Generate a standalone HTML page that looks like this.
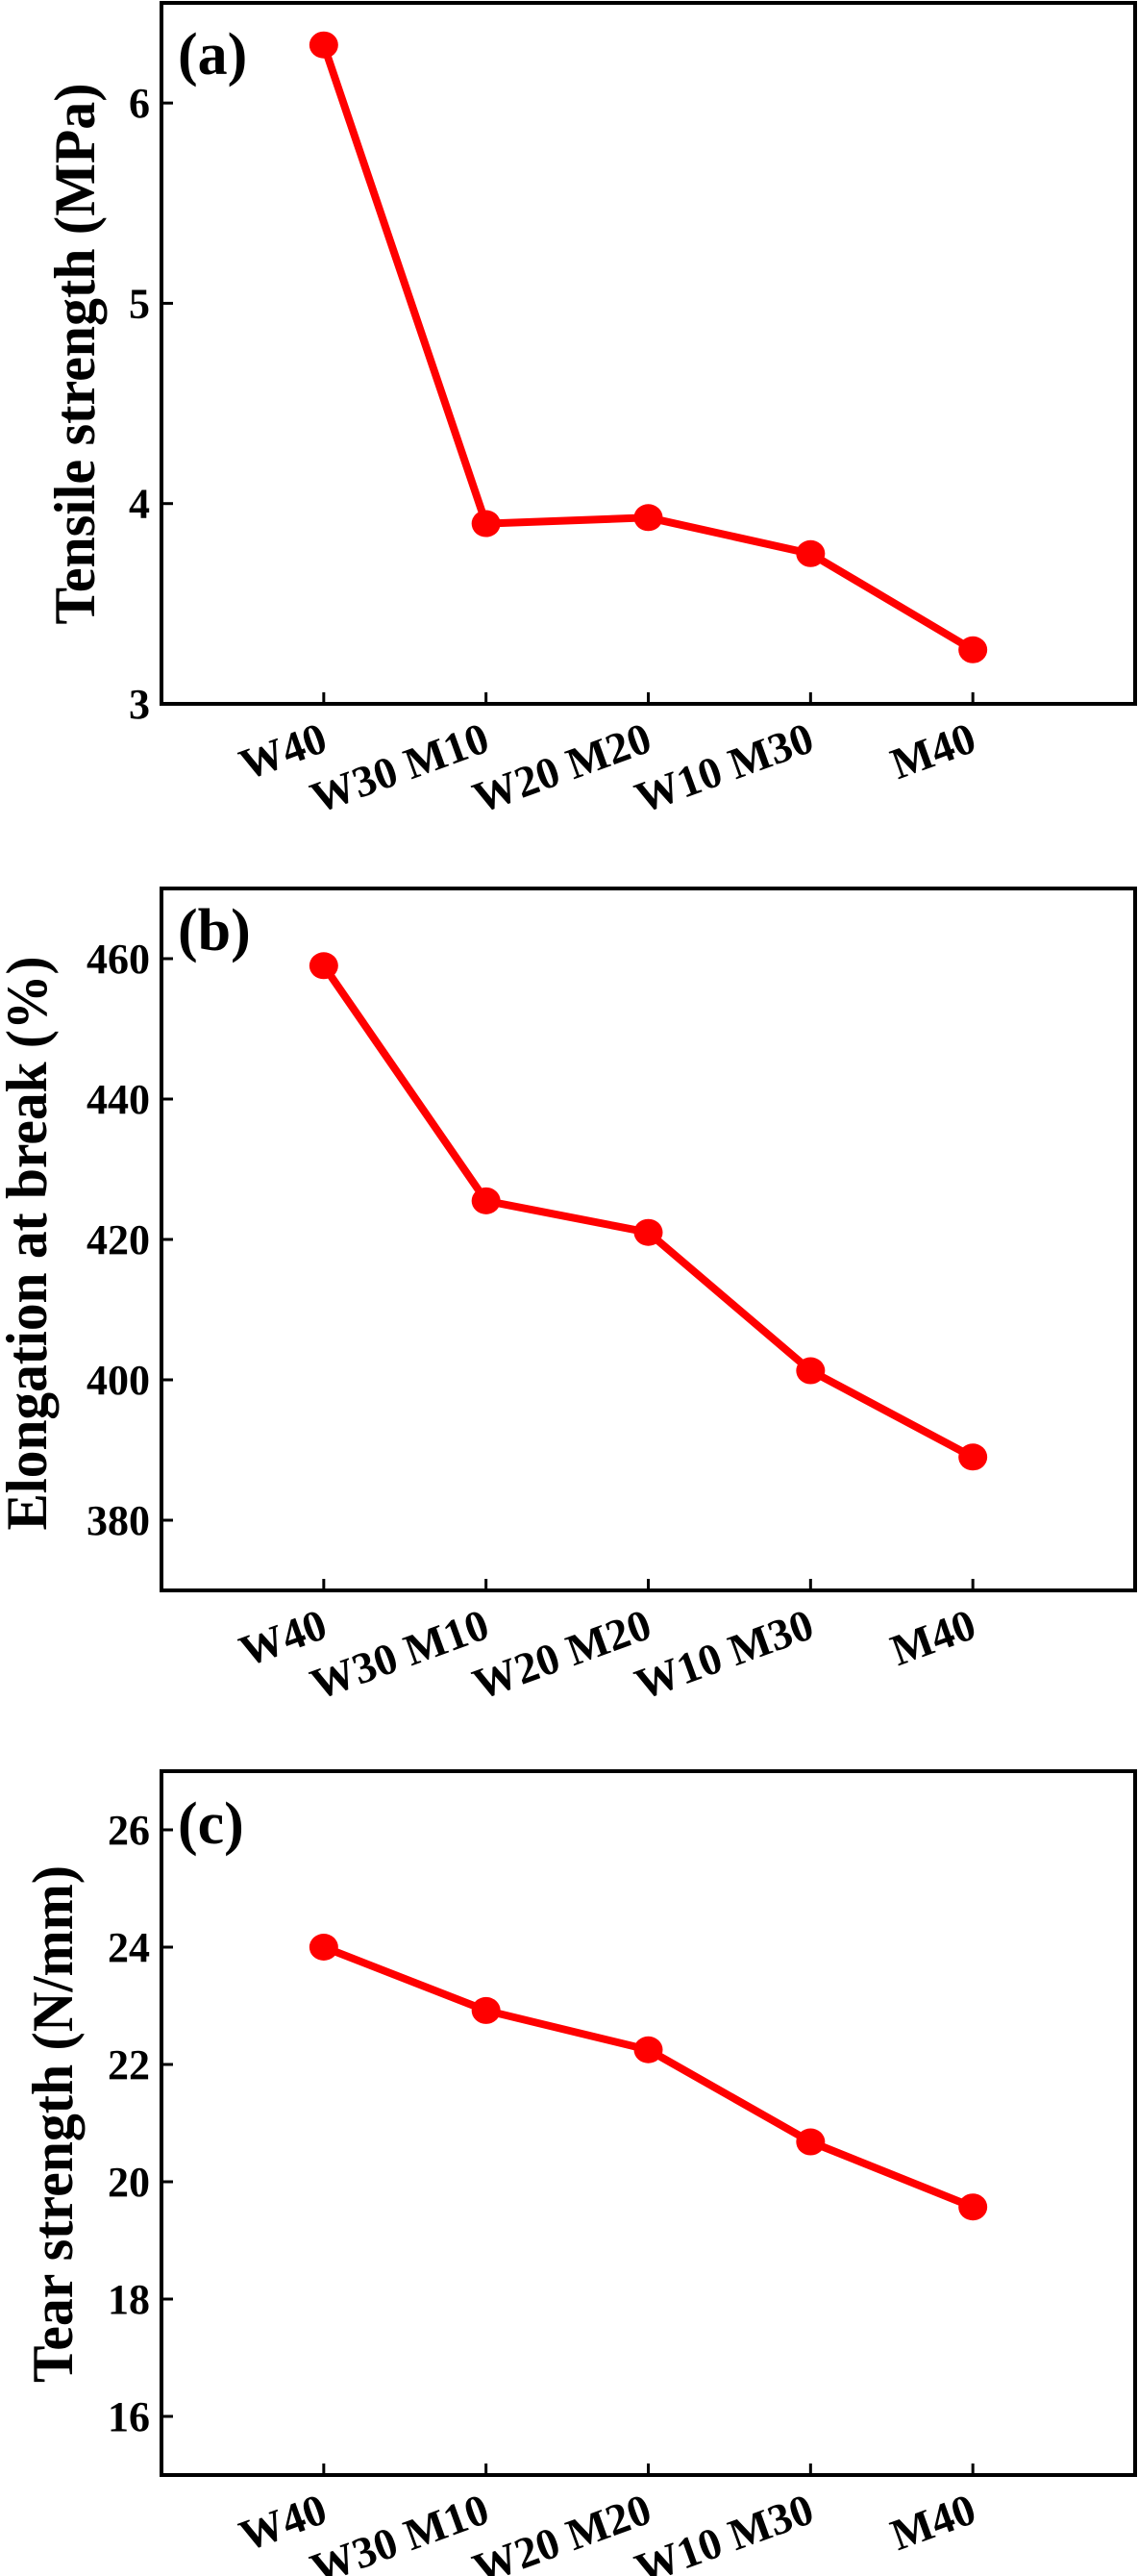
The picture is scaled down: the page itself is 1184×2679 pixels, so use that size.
<!DOCTYPE html>
<html><head><meta charset="utf-8"><style>
body{margin:0;background:#fff;}
svg{display:block;font-family:"Liberation Serif",serif;font-weight:bold;}
</style></head><body>
<svg id="fig" width="1184" height="2679" viewBox="0 0 1184 2679"></svg>
<script>
const categories = ["W40","W30 M10","W20 M20","W10 M30","M40"];
const tensileValues = [6.29, 3.90, 3.93, 3.75, 3.27];
const tensileTicks = [3,4,5,6];
const elongationValues = [459, 425.5, 421, 401.3, 389];
const elongationTicks = [380,400,420,440,460];
const tearValues = [24.0, 22.92, 22.25, 20.68, 19.57];
const tearTicks = [16,18,20,22,24,26];

const NS="http://www.w3.org/2000/svg";
const svg=document.getElementById('fig');
function mk(tag,attrs,parent){const e=document.createElementNS(NS,tag);for(const k in attrs)e.setAttribute(k,attrs[k]);(parent||svg).appendChild(e);return e;}

function panel(cfg){
  const g=mk('g',{});
  
  
  const L=168,R=1181,T=cfg.top,B=cfg.bottom;
  const xs=i=>L+(i+1)*(R-L)/6;
  const ys=v=>B-(v-cfg.min)/(cfg.max-cfg.min)*(B-T);
  const frame=mk('rect',{x:L,y:T,width:R-L,height:B-T,fill:'none',stroke:'#000','stroke-width':4},g);
  
  
  cfg.ticks.forEach(t=>{
    const y=ys(t);
    mk('line',{x1:L,x2:L+12,y1:y,y2:y,stroke:'#000','stroke-width':3},g);
    const tx=mk('text',{x:L-12,y:y+15,'text-anchor':'end','font-size':44},g);
    tx.textContent=t;
    
    
  });
  categories.forEach((c,i)=>{
    const x=xs(i);
    mk('line',{x1:x,x2:x,y1:B,y2:B-12,stroke:'#000','stroke-width':3},g);
    const tx=mk('text',{x:0,y:0,'text-anchor':'end','font-size':46,transform:`translate(${x+6},${B+48}) rotate(-20)`},g);
    tx.textContent=c;
    
    
  });
  const pts=cfg.values.map((v,i)=>xs(i)+','+ys(v)).join(' ');
  const line=mk('polyline',{points:pts,fill:'none',stroke:'#ff0000','stroke-width':8,'stroke-linejoin':'round'},g);
  
  
  cfg.values.forEach((v,i)=>{
    const c=mk('ellipse',{cx:xs(i),cy:ys(v),rx:15,ry:14,fill:'#ff0000'},g);
    
    
  });
  const lab=mk('text',{x:185,y:cfg.top+(cfg.labelDy||56),'font-size':62},g);
  lab.textContent=cfg.label;
  
  
  const yt=mk('text',{x:0,y:0,'text-anchor':'middle','font-size':60,textLength:cfg.titleLen,lengthAdjust:'spacingAndGlyphs',transform:`translate(${cfg.titleX},${cfg.titleY}) rotate(-90)`},g);
  yt.textContent=cfg.title;
  
  
}
panel({id:'tensile',top:3,bottom:732,min:3,max:6.5,ticks:tensileTicks,values:tensileValues,label:'(a)',labelDy:74,title:'Tensile strength (MPa)',titleLen:563,titleX:98,titleY:368});
panel({id:'elongation',top:924,bottom:1654,min:370,max:470,ticks:elongationTicks,values:elongationValues,label:'(b)',labelDy:64,title:'Elongation at break (%)',titleLen:597,titleX:48,titleY:1293});
panel({id:'tear',top:1842,bottom:2574,min:15,max:27,ticks:tearTicks,values:tearValues,label:'(c)',labelDy:75,title:'Tear strength (N/mm)',titleLen:538,titleX:75,titleY:2209});
</script>
</body></html>
